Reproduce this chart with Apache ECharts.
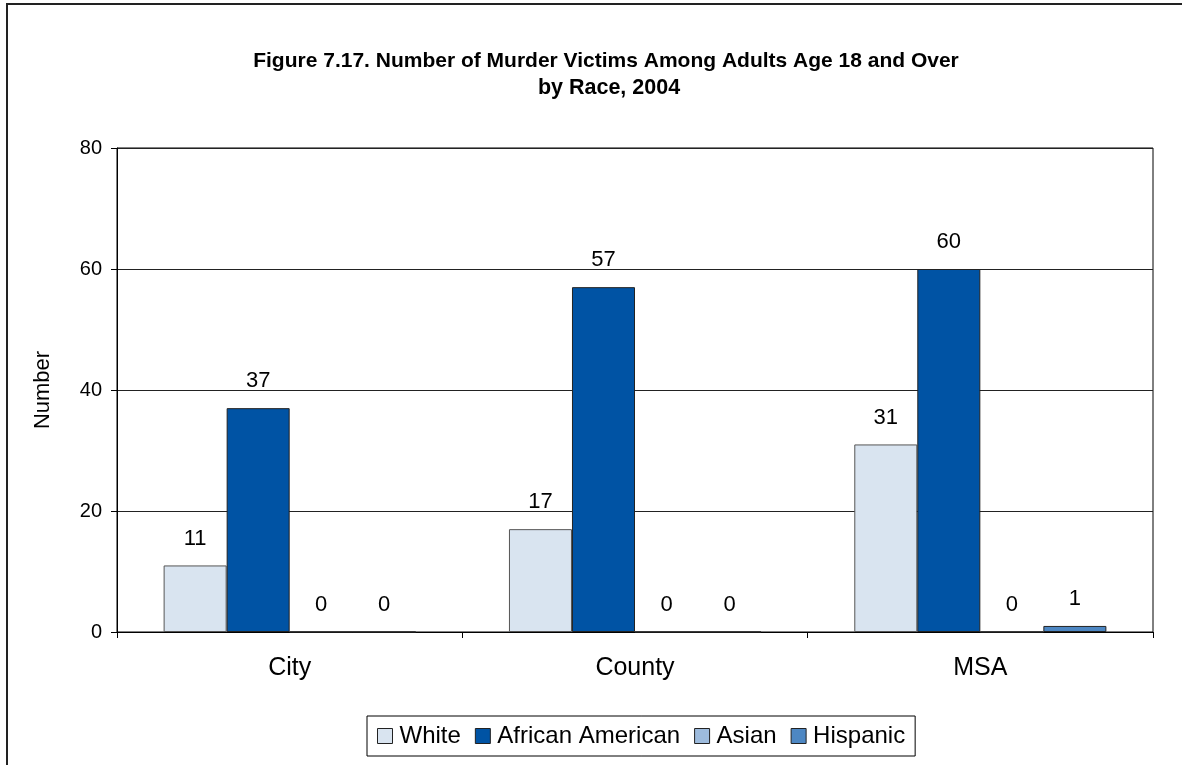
<!DOCTYPE html>
<html>
<head>
<meta charset="utf-8">
<script src="https://cdn.jsdelivr.net/npm/echarts@6/dist/echarts.min.js"></script>
<style>html,body{margin:0;padding:0;background:#fff;}#c{width:1182px;height:765px;}</style>
</head>
<body>
<div id="c"></div>
<script>
const categories = ['City', 'County', 'MSA'];
const white = [11, 17, 31];
const africanAmerican = [37, 57, 60];
const asian = [0, 0, 0];
const hispanic = [0, 0, 1];
const seriesNames = ['White', 'African American', 'Asian', 'Hispanic'];
const seriesColors = ['#D9E4F0', '#0053A4', '#9DBBDD', '#4D87C3'];
const yTicks = [0, 20, 40, 60, 80];

const font = 'Liberation Sans, Arial, Helvetica, sans-serif';
const chart = echarts.init(document.getElementById('c'), null, {renderer: 'canvas'});
const values = [white, africanAmerican, asian, hispanic];

const series = seriesNames.map((name, i) => ({
  name: name,
  type: 'bar',
  data: values[i],
  barGap: '0%',
  barCategoryGap: '27%',
  itemStyle: {color: seriesColors[i], borderColor: i === 0 ? '#555' : '#222', borderWidth: 1},
  label: {show: true, position: 'top', distance: 16, fontSize: 22, color: '#000', fontFamily: font},
  emphasis: {disabled: true}
}));

chart.setOption({
  animation: false,
  backgroundColor: '#fff',
  title: [
    {text: 'Figure 7.17. Number of Murder Victims Among Adults Age 18 and Over', left: 601, textAlign: 'center', top: 46,
     textStyle: {fontFamily: font, fontSize: 21, fontWeight: 'bold', color: '#000'}},
    {text: 'by Race, 2004', left: 604, textAlign: 'center', top: 72,
     textStyle: {fontFamily: font, fontSize: 21.5, fontWeight: 'bold', color: '#000'}}
  ],
  graphic: [
    {type: 'rect', shape: {x: 7, y: 4, width: 1400, height: 1000}, style: {fill: 'none', stroke: '#222', lineWidth: 2}, silent: true}
  ],
  legend: {
    left: 367, top: 716,
    itemWidth: 15, itemHeight: 15, itemGap: 14,
    icon: 'rect',
    padding: [8, 10, 8, 10],
    borderColor: '#000', borderWidth: 1,
    textStyle: {fontFamily: font, fontSize: 24, color: '#000', padding: [0, 0, 0, 2]},
    itemStyle: {borderColor: '#222', borderWidth: 1},
    data: seriesNames
  },
  grid: {left: 117, right: 29, top: 148, bottom: 133, show: true, borderColor: '#000', borderWidth: 1, backgroundColor: 'transparent'},
  xAxis: {
    type: 'category', data: categories,
    axisLine: {lineStyle: {color: '#000'}},
    axisTick: {show: true, length: 6, lineStyle: {color: '#000'}},
    axisLabel: {fontFamily: font, fontSize: 25, color: '#000', margin: 24}
  },
  yAxis: {
    type: 'value', min: yTicks[0], max: yTicks[yTicks.length - 1], interval: 20,
    name: 'Number', nameLocation: 'middle', nameGap: 63, nameRotate: 90,
    nameTextStyle: {fontFamily: font, fontSize: 22, color: '#000'},
    axisLine: {show: true, lineStyle: {color: '#000'}},
    axisTick: {show: true, length: 6, lineStyle: {color: '#000'}},
    axisLabel: {fontFamily: font, fontSize: 20, color: '#000', margin: 15},
    splitLine: {show: true, lineStyle: {color: '#222', width: 1}}
  },
  series: series
});
</script>
</body>
</html>
